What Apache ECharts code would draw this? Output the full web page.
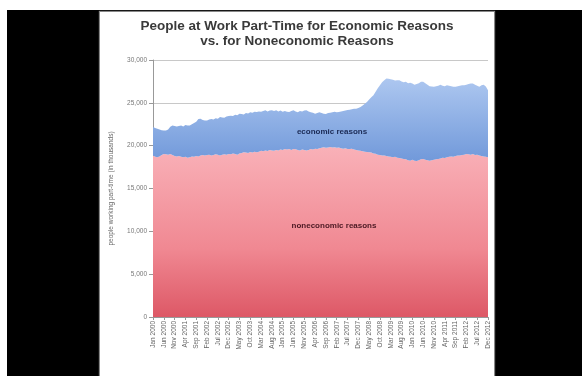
<!DOCTYPE html>
<html>
<head>
<meta charset="utf-8">
<script src="https://cdn.jsdelivr.net/npm/echarts@6/dist/echarts.min.js"></script>
<style>
html,body{margin:0;padding:0;background:#fff;width:582px;height:376px;overflow:hidden;}
#frame{position:absolute;left:7px;top:10px;width:575px;height:366px;background:#000;}
#panel{position:absolute;left:100px;top:12px;width:394px;height:364px;background:#fff;box-shadow:0 0 1px 1px #888;}
#chart{width:394px;height:364px;}
</style>
</head>
<body>
<div id="frame"></div>
<div id="panel"><div id="chart"></div></div>
<script>
// ---- data (thousands of people), monthly Jan 2000 .. Dec 2012 ----
const monthNames = ['Jan','Feb','Mar','Apr','May','Jun','Jul','Aug','Sep','Oct','Nov','Dec'];
const years = [2000,2001,2002,2003,2004,2005,2006,2007,2008,2009,2010,2011,2012];
const categories = [];
years.forEach(y => monthNames.forEach(m => categories.push(m + ' ' + y)));

const noneconomicReasons = [
  18840,18700,18640,18750,18900,19040,19000,18950,19040,18900,18800,18750,
  18800,18700,18640,18700,18600,18650,18750,18700,18800,18750,18850,18900,
  18850,18900,18950,18850,18900,19000,18950,18850,18950,19000,18950,19040,
  19000,19100,19040,18950,19100,19150,19240,19200,19150,19250,19200,19300,
  19240,19300,19400,19350,19430,19380,19500,19430,19400,19500,19450,19550,
  19500,19620,19550,19600,19500,19620,19580,19500,19450,19550,19500,19450,
  19500,19600,19550,19650,19620,19700,19750,19820,19750,19800,19850,19780,
  19820,19750,19800,19700,19650,19700,19620,19600,19650,19550,19500,19450,
  19400,19350,19300,19250,19240,19200,19100,19050,18950,18900,18850,18840,
  18800,18750,18700,18640,18700,18600,18550,18500,18450,18400,18300,18250,
  18350,18250,18200,18300,18400,18440,18350,18300,18250,18300,18350,18400,
  18450,18500,18600,18550,18650,18700,18750,18700,18800,18850,18840,18900,
  18950,19040,19000,18950,19040,18900,18950,18850,18800,18750,18700,18640
];
const economicReasons = [
  3330,3350,3330,3150,2900,2730,2770,2950,3160,3460,3500,3500,
  3500,3650,3610,3700,3750,3710,3750,3950,4000,4350,4300,4100,
  4100,4050,4100,4250,4150,4200,4200,4500,4350,4250,4450,4410,
  4500,4350,4560,4600,4640,4550,4410,4600,4600,4650,4650,4650,
  4690,4700,4550,4700,4700,4620,4600,4700,4650,4630,4550,4550,
  4450,4430,4400,4330,4550,4510,4420,4400,4600,4450,4600,4680,
  4500,4300,4300,4090,4180,4200,4050,3920,3950,4000,4000,4120,
  4130,4150,4130,4300,4400,4400,4530,4600,4600,4750,4820,4950,
  5100,5350,5600,5850,6160,6450,6780,7250,7750,8160,8550,8810,
  9050,9050,9050,9060,8900,9050,9100,9000,8950,9050,9000,9100,
  8910,8850,9000,9000,9050,9020,8950,8800,8700,8600,8520,8550,
  8550,8600,8400,8400,8410,8300,8200,8170,8070,8100,8160,8160,
  8110,8060,8200,8310,8220,8200,8050,8020,8250,8350,8200,7830
];
const yTicks = { min: 0, max: 30000, interval: 5000 };
const titleLines = ['People at Work Part-Time for Economic Reasons', 'vs. for Noneconomic Reasons'];
const yAxisTitle = 'people working part-time (in thousands)';

const chart = echarts.init(document.getElementById('chart'), null, { renderer: 'canvas' });
const font = 'Liberation Sans, Arial, sans-serif';
chart.setOption({
  animation: false,
  textStyle: { fontFamily: font },
  grid: { left: 50, top: 48, right: 6, bottom: 59, containLabel: false },
  graphic: [
    { type: 'text', left: 'center', top: 7, style: { text: titleLines[0], font: 'bold 13.5px ' + font, fill: '#3a3a3a' } },
    { type: 'text', left: 'center', top: 22, style: { text: titleLines[1], font: 'bold 13.5px ' + font, fill: '#3a3a3a' } },
    { type: 'text', x: 232, y: 120, style: { text: 'economic reasons', font: 'bold 8px ' + font, fill: '#1b2a55', textAlign: 'center', textVerticalAlign: 'middle' }, z: 100 },
    { type: 'text', x: 234, y: 214, style: { text: 'noneconomic reasons', font: 'bold 8px ' + font, fill: '#4a1822', textAlign: 'center', textVerticalAlign: 'middle' }, z: 100 }
  ],
  xAxis: {
    type: 'category',
    data: categories,
    boundaryGap: false,
    axisLine: { lineStyle: { color: '#999' } },
    axisTick: { show: true, interval: 4, lineStyle: { color: '#999' }, length: 3 },
    axisLabel: { interval: 4, rotate: 90, fontSize: 6.5, color: '#666', margin: 4, fontFamily: font }
  },
  yAxis: {
    type: 'value',
    min: yTicks.min, max: yTicks.max, interval: yTicks.interval,
    name: yAxisTitle,
    nameLocation: 'middle',
    nameGap: 38,
    nameTextStyle: { fontSize: 6.5, color: '#666', fontFamily: font },
    axisLine: { show: true, lineStyle: { color: '#999' } },
    axisTick: { show: true, length: 4, lineStyle: { color: '#999' } },
    splitLine: { lineStyle: { color: '#c8c8c8' } },
    axisLabel: { fontSize: 6.5, color: '#777', margin: 6, fontFamily: font,
      formatter: v => v.toLocaleString('en-US') }
  },
  series: [
    {
      name: 'noneconomic reasons', type: 'line', stack: 'total', data: noneconomicReasons,
      symbol: 'none', lineStyle: { width: 0 },
      areaStyle: { opacity: 1, color: new echarts.graphic.LinearGradient(0, 0, 0, 1, [
        { offset: 0, color: '#f9b1b8' }, { offset: 0.6, color: '#f08892' }, { offset: 1, color: '#dd5866' }]) }
    },
    {
      name: 'economic reasons', type: 'line', stack: 'total', data: economicReasons,
      symbol: 'none', lineStyle: { width: 0 },
      areaStyle: { opacity: 1, color: new echarts.graphic.LinearGradient(0, 0, 0, 1, [
        { offset: 0, color: '#adc7f0' }, { offset: 1, color: '#7199da' }]) }
    }
  ]
});
</script>
</body>
</html>
